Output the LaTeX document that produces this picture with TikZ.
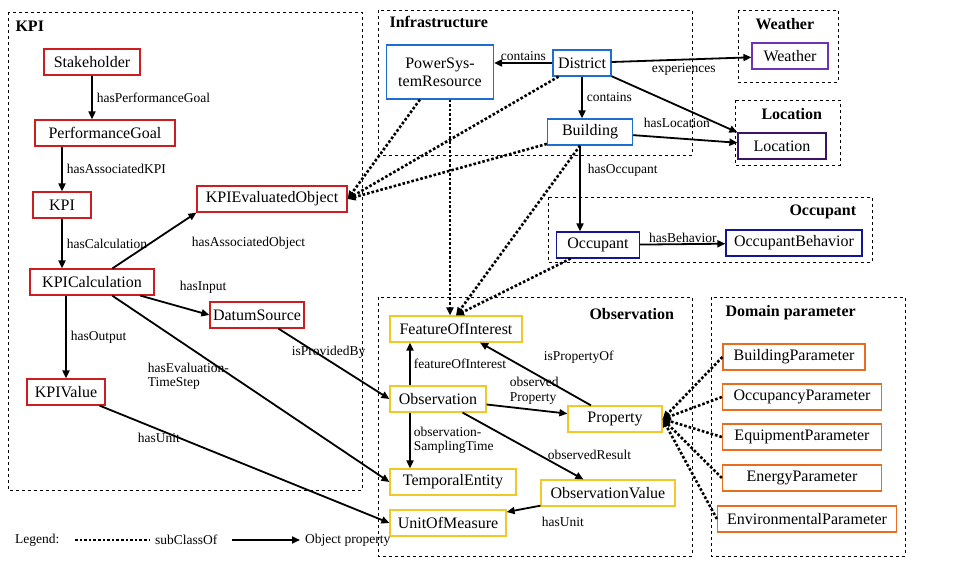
\documentclass[tikz,border=0pt]{standalone}
\usepackage{fontspec}
\setmainfont{Liberation Serif}
\usetikzlibrary{arrows.meta,positioning}
\definecolor{kpired}{RGB}{204,30,30}
\definecolor{infblue}{RGB}{30,110,210}
\definecolor{wpurple}{RGB}{110,50,180}
\definecolor{locpurple}{RGB}{60,20,100}
\definecolor{occblue}{RGB}{20,20,150}
\definecolor{obsyellow}{RGB}{240,200,40}
\definecolor{domorange}{RGB}{230,110,30}
\begin{document}
\begin{tikzpicture}[x=1pt,y=-1pt,
         > = {Triangle[length=8pt,width=7pt]},
cls/.style = {draw=#1, line width=1.2pt, minimum height=26pt,
              inner xsep=3pt, font=\fontsize{16}{18}\selectfont},
grp/.style = {draw, dashed, thick},
ttl/.style = {font=\bfseries\fontsize{16}{18}\selectfont, anchor=west},
lbl/.style = {font=\fontsize{13.5}{14.5}\selectfont, inner sep=1pt, align=left},
obj/.style = {->, line width=1.8pt},
sub/.style = {->, line width=2.6pt, dotted}
                        ]
	\useasboundingbox (0,0) rectangle (960,560);

	% groups
	\draw[grp] (8,12) rectangle (362,490);
	\node[ttl] at (12,26) {KPI};
	\draw[grp] (378,10) rectangle (692,155);
	\node[ttl] at (386,22) {Infrastructure};
	\draw[grp] (738,10) rectangle (838,82);
	\node[ttl] at (752,24) {Weather};
	\draw[grp] (735,100) rectangle (840,165);
	\node[ttl] at (758,114) {Location};
	\draw[grp] (548,197) rectangle (872,262);
	\node[ttl] at (786,212) {Occupant};
	\draw[grp] (378,297) rectangle (692,556);
	\node[ttl] at (586,314) {Observation};
	\draw[grp] (711,297) rectangle (905,556);
	\node[ttl] at (722,313) {Domain parameter};

	% KPI
	\node[cls=kpired, minimum width=96pt] (sh) at (92,62) {Stakeholder};
	\node[cls=kpired, minimum width=140pt] (pg) at (105,133) {PerformanceGoal};
	\node[cls=kpired, minimum width=58pt] (kpi) at (62,205) {KPI};
	\node[cls=kpired, minimum width=124pt] (calc) at (92,282) {KPICalculation};
	\node[cls=kpired, minimum width=78pt] (val) at (66,392) {KPIValue};
	\node[cls=kpired, minimum width=150pt] (eval) at (272,199) {KPIEvaluatedObject};
	\node[cls=kpired, minimum width=82pt] (datum) at (257,315) {DatumSource};

	% infrastructure
	\node[cls=infblue, minimum width=107pt, minimum height=54pt, align=center]
	    (psr) at (440,72) {PowerSys-\\temResource};
	\node[cls=infblue, minimum width=58pt] (dist) at (582,63) {District};
	\node[cls=infblue, minimum width=85pt] (bld) at (590,132) {Building};
	\node[cls=wpurple, minimum width=76pt] (wea) at (790,56) {Weather};
	\node[cls=locpurple, minimum width=88pt] (loc) at (782,146) {Location};
	\node[cls=occblue, minimum width=83pt] (occ) at (598,245) {Occupant};
	\node[cls=occblue, minimum width=136pt] (beh) at (794,243) {OccupantBehavior};

	% observation
	\node[cls=obsyellow, minimum width=132pt] (foi) at (456,329) {FeatureOfInterest};
	\node[cls=obsyellow, minimum width=96pt] (obs) at (438,399) {Observation};
	\node[cls=obsyellow, minimum width=94pt] (prop) at (615,419) {Property};
	\node[cls=obsyellow, minimum width=126pt] (temp) at (453,482) {TemporalEntity};
	\node[cls=obsyellow, minimum width=134pt] (ov) at (608,493) {ObservationValue};
	\node[cls=obsyellow, minimum width=116pt] (uom) at (448,523) {UnitOfMeasure};

	% domain parameters
	\node[cls=domorange, minimum width=142pt] (bp) at (794,357) {BuildingParameter};
	\node[cls=domorange, minimum width=159pt] (op) at (802,397) {OccupancyParameter};
	\node[cls=domorange, minimum width=159pt] (ep) at (802,437) {EquipmentParameter};
	\node[cls=domorange, minimum width=159pt] (enp) at (802,478) {EnergyParameter};
	\node[cls=domorange, minimum width=179pt] (envp) at (807,519) {EnvironmentalParameter};

	% object properties
	\draw[obj] (sh) -- (sh|-pg.north) node[lbl, midway, right=3pt] {hasPerformanceGoal};
	\draw[obj] (kpi|-pg.south) -- (kpi) node[lbl, midway, right=3pt] {hasAssociatedKPI};
	\draw[obj] (kpi) -- (kpi|-calc.north) node[lbl, midway, right=3pt] {hasCalculation};
	\draw[obj] (val|-calc.south) -- (val) node[lbl, midway, right=3pt] {hasOutput};
	\draw[obj] (calc) -- (eval.south west) node[lbl, anchor=west] at (190,243) {hasAssociatedObject};
	\draw[obj] (calc) -- (datum.west) node[lbl, anchor=west] at (178,287) {hasInput};
	\draw[obj] (calc) -- (temp.west) node[lbl, anchor=west] at (146,376) {hasEvaluation-\\TimeStep};
	\draw[obj] (val) -- (uom.west) node[lbl, anchor=west] at (136,438) {hasUnit};
	\draw[obj] (datum) -- (obs.west) node[lbl, anchor=west] at (290,352) {isProvidedBy};
	\draw[obj] (dist) -- (psr.east|-dist) node[lbl, midway, above] {contains};
	\draw[obj] (dist) -- (wea) node[lbl, anchor=west] at (650,69) {experiences};
	\draw[obj] (dist) -- (loc.north west);
	\draw[obj] (dist|-dist.south) -- (dist|-bld.north) node[lbl, midway, right=3pt] {contains};
	\draw[obj] (bld) -- (loc) node[lbl, anchor=west] at (642,123) {hasLocation};
	\draw[obj] (bld.south-|580,0) -- (occ.north-|580,0) node[lbl, anchor=west] at (586,170) {hasOccupant};
	\draw[obj] (occ) -- (beh) node[lbl, midway, above] {hasBehavior};
	\draw[obj] (obs.north-|410,0) -- (foi.south-|410,0) node[lbl, midway, right=2pt] {featureOfInterest};
	\draw[obj] (obs) -- (prop) node[lbl, anchor=west] at (508,391) {observed\\Property};
	\draw[obj] (obs.south-|410,0) -- (temp.north-|410,0) node[lbl, midway, right=2pt] {observation-\\SamplingTime};
	\draw[obj] (obs) -- (ov) node[lbl, anchor=west] at (546,455) {observedResult};
	\draw[obj] (prop) -- (foi) node[lbl, anchor=west] at (542,357) {isPropertyOf};
	\draw[obj] (ov) -- (uom) node[lbl, anchor=west] at (540,522) {hasUnit};

	% subclasses
	\draw[sub] (psr) -- (eval.east);
	\draw[sub] (dist) -- (eval.east);
	\draw[sub] (bld) -- (eval.east);
	\draw[sub] (psr.south-|450,0) -- (foi.north-|450,0);
	\draw[sub] (bld) -- (foi.north);
	\draw[sub] (occ) -- (foi.north);
	\foreach \p in {bp,op,ep,enp,envp}
	    \draw[sub] (\p.west) -- (prop.east);

	% legend
	\node[lbl, anchor=west] (leg) at (14,540) {Legend:};
	\coordinate (l1) at (75,540);
	\coordinate (l2) at (150,540);
	\draw[line width=2.6pt, dotted] (l1) -- (l2);
	\node[lbl, anchor=west] (lsub) at (154,540) {subClassOf};
	\coordinate (l3) at (232,540);
	\coordinate (l4) at (300,540);
	\draw[obj] (l3) -- (l4);
	\node[lbl, anchor=west] (lobj) at (304,540) {Object property};
\end{tikzpicture}
\end{document}
